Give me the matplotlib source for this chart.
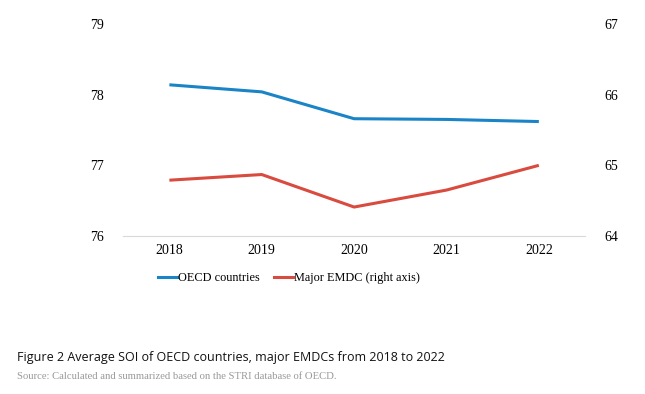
import matplotlib.pyplot as plt
from matplotlib.lines import Line2D

years = ['2018', '2019', '2020', '2021', '2022']
oecd = [78.14, 78.04, 77.66, 77.65, 77.62]
emdc = [64.79, 64.87, 64.41, 64.65, 65.0]

blue = '#1a84c7'
red = '#d94a3f'
serif = 'Liberation Serif'

fig = plt.figure(figsize=(6.45, 3.94), dpi=100)
ax = fig.add_axes([0.191, 0.401, 0.716, 0.538])
ax2 = ax.twinx()

x = range(len(years))
ax.plot(x, oecd, color=blue, lw=2.2, solid_capstyle='butt')
ax2.plot(x, emdc, color=red, lw=2.2, solid_capstyle='butt')

ax.set_xlim(-0.5, 4.5)
ax.set_ylim(76, 79)
ax2.set_ylim(64, 67)
ax.set_yticks([76, 77, 78, 79])
ax2.set_yticks([64, 65, 66, 67])
ax.set_xticks(list(x))
ax.set_xticklabels(years)

for a in (ax, ax2):
    for s in a.spines.values():
        s.set_visible(False)
    a.tick_params(length=0, labelsize=10)
    for lab in a.get_xticklabels() + a.get_yticklabels():
        lab.set_fontfamily(serif)
ax.spines['bottom'].set_visible(True)
ax.spines['bottom'].set_color('#d9d9d9')
ax.tick_params(axis='y', pad=14)
ax2.tick_params(axis='y', pad=14)
ax.tick_params(axis='x', pad=6)

handles = [Line2D([], [], color=blue, lw=2.2), Line2D([], [], color=red, lw=2.2)]
fig.legend(handles, ['OECD countries', 'Major EMDC (right axis)'],
           loc='center', bbox_to_anchor=(0.448, 0.294), ncol=2, frameon=False,
           prop={'family': serif, 'size': 8.8}, handlelength=1.5,
           handletextpad=0.1, columnspacing=1.2)

fig.text(0.027, 0.093, 'Figure 2 Average SOI of OECD countries, major EMDCs from 2018 to 2022',
         family='Open Sans', fontsize=9, color='#111111', va='center')
fig.text(0.027, 0.045, 'Source: Calculated and summarized based on the STRI database of OECD.',
         family=serif, fontsize=7.7, color='#999999', va='center')

fig.savefig('out.png', dpi=100)
